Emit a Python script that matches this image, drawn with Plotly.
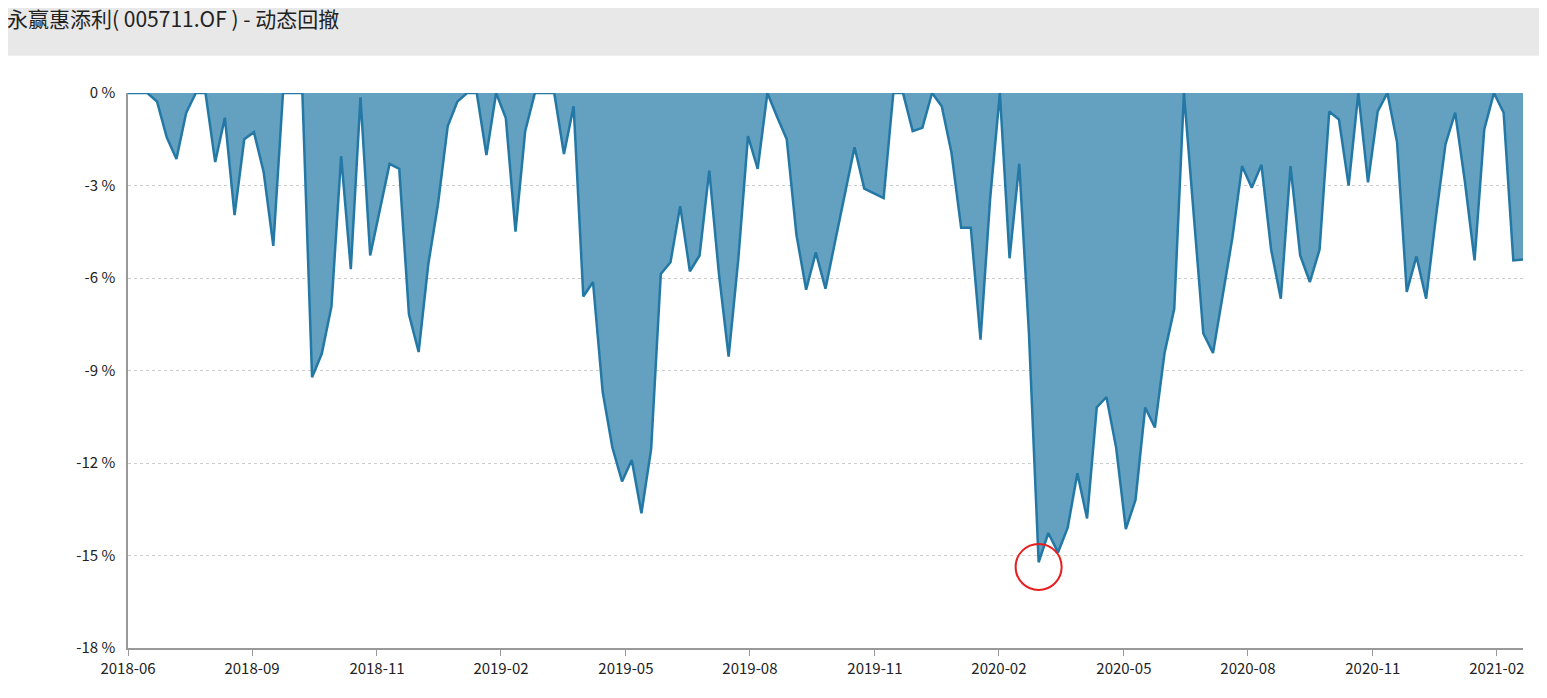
import plotly.graph_objects as go

drawdown = [0, 0, 0, -0.28, -1.44, -2.14, -0.65, 0, 0, -2.24,
            -0.8, -3.96, -1.5, -1.27, -2.56, -4.96, 0, 0, 0, -9.22,
            -8.46, -6.93, -2.05, -5.71, -0.14, -5.27, -3.8, -2.3, -2.46, -7.18,
            -8.4, -5.55, -3.6, -1.08, -0.28, 0, 0, -2.01, 0, -0.81,
            -4.5, -1.24, 0, 0, 0, -1.98, -0.43, -6.6, -6.13, -9.7,
            -11.5, -12.6, -11.9, -13.63, -11.55, -5.87, -5.49, -3.67, -5.78, -5.27,
            -2.52, -5.87, -8.55, -5.39, -1.4, -2.46, 0, -0.77, -1.5, -4.6,
            -6.38, -5.17, -6.35, -4.8, -3.26, -1.76, -3.1, -3.26, -3.41, 0,
            0, -1.24, -1.13, 0, -0.43, -1.93, -4.37, -4.37, -8.0, -3.41,
            0, -5.36, -2.3, -7.8, -15.22, -14.27, -14.9, -14.1, -12.33, -13.8,
            -10.2, -9.86, -11.5, -14.14, -13.2, -10.2, -10.85, -8.43, -7.0, 0,
            -3.9, -7.8, -8.43, -6.5, -4.7, -2.37, -3.07, -2.33, -5.08, -6.67,
            -2.37, -5.27, -6.13, -5.08, -0.6, -0.86, -3.0, 0, -2.9, -0.6,
            0, -1.6, -6.45, -5.3, -6.67, -4.05, -1.66, -0.64, -2.87, -5.43,
            -1.18, 0, -0.64, -5.43, -5.4]
week_index = list(range(len(drawdown)))

tick_labels = ["2018-06", "2018-09", "2018-11", "2019-02", "2019-05", "2019-08",
               "2019-11", "2020-02", "2020-05", "2020-08", "2020-11", "2021-02"]
tick_positions = [0, 12.8, 25.7, 38.5, 51.4, 64.2, 77.1, 89.9, 102.8, 115.6, 128.5, 141.3]
y_ticks = [0, -3, -6, -9, -12, -15, -18]
y_labels = [f"{v} %" for v in y_ticks]

min_i = min(week_index, key=lambda i: drawdown[i])

fig = go.Figure()
fig.add_trace(go.Scatter(x=week_index, y=drawdown, mode="lines", fill="tozeroy",
                         line=dict(color="rgb(35,120,165)", width=2.5),
                         fillcolor="rgb(100,160,192)", hoverinfo="skip"))

fig.add_shape(type="rect", xref="paper", yref="paper", x0=-0.09, x1=1.03, y0=-0.2, y1=1.067,
              fillcolor="white", line=dict(width=0), layer="below")
fig.add_shape(type="circle", xref="x", yref="y", xsizemode="pixel", ysizemode="pixel",
              xanchor=week_index[min_i], yanchor=drawdown[min_i] - 0.15,
              x0=-23, x1=23, y0=-23, y1=23, line=dict(color="rgb(230,30,30)", width=2))

fig.add_annotation(text="永赢惠添利( 005711.OF ) - 动态回撤", xref="paper", yref="paper",
                   x=-0.088, y=1.135, xanchor="left", yanchor="middle", showarrow=False,
                   font=dict(size=21, color="#222"))

fig.update_layout(
    width=1531, height=682, margin=dict(l=120, r=16, t=85, b=33),
    paper_bgcolor="rgb(232,232,232)", plot_bgcolor="white", showlegend=False,
    font=dict(family="Noto Sans CJK SC, Noto Sans, sans-serif", size=15, color="#222"),
    xaxis=dict(range=[0, 144], tickvals=tick_positions, ticktext=tick_labels,
               showgrid=False, zeroline=False, showline=True, linecolor="#999", linewidth=1.5,
               ticks="outside", ticklen=6, tickcolor="#999"),
    yaxis=dict(range=[-18, 0], tickvals=y_ticks, ticktext=y_labels,
               showgrid=True, gridcolor="#ccc", griddash="dot", zeroline=False,
               showline=True, linecolor="#999", linewidth=1.5, ticks="", ticklabelstandoff=8),
)
fig.write_html("out.html")
